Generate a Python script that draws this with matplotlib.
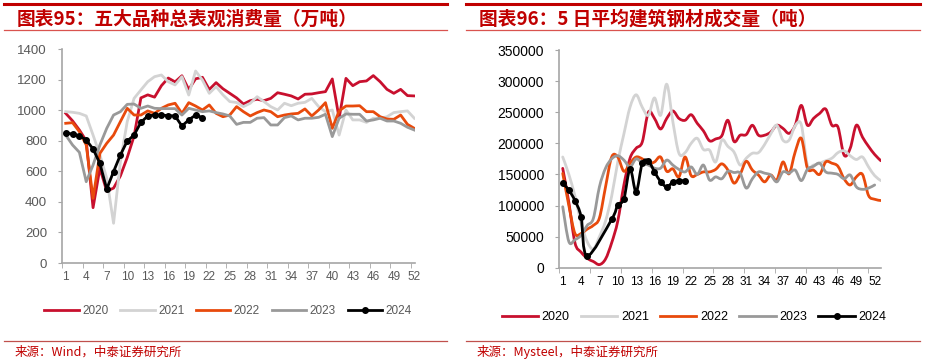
import numpy as np
import matplotlib
matplotlib.use("Agg")
import matplotlib.pyplot as plt
from matplotlib.lines import Line2D
from matplotlib.path import Path
from matplotlib.patches import PathPatch
from matplotlib.ticker import FixedLocator

plt.rcParams['font.family'] = ['Liberation Sans', 'Noto Sans CJK SC', 'DejaVu Sans']

# ================== DATA ==================
years = ['2020', '2021', '2022', '2023', '2024']
colors = ['#C8102E', '#D3D3D3', '#E84A0C', '#999999', '#000000']

# left: five major products apparent consumption (10k t), weeks 1..52
wk_left = list(range(1, 53))
cons_2020 = [979, 930, 870, 800, 362, 620, 470, 490, 570, 690, 830, 1080, 1100, 1085, 1160, 1210,
             1185, 1225, 1135, 1205, 1215, 1135, 1180, 1140, 1110, 1080, 1040, 1062, 1071, 1062,
             1077, 1114, 1104, 1093, 1073, 1104, 1106, 1114, 1121, 1204, 947, 1208, 1160, 1186,
             1191, 1226, 1186, 1136, 1110, 1136, 1095, 1093]
cons_2021 = [990, 986, 979, 962, 837, 707, 554, 260, 663, 925, 1077, 1132, 1186, 1219, 1230, 1186,
             1165, 1219, 1099, 1256, 1197, 1110, 1154, 1100, 1056, 1050, 1023, 1045, 1088, 1056,
             1023, 1001, 1045, 1029, 1045, 1051, 1077, 1023, 990, 1001, 837, 1001, 936, 936,
             920, 947, 947, 957, 984, 990, 995, 947]
cons_2022 = [914, 918, 859, 772, 423, 717, 783, 837, 925, 1012, 968, 968, 995, 979, 1012, 1034,
             1045, 979, 1049, 1027, 1001, 1034, 979, 957, 968, 1023, 990, 962, 984, 1001,
             990, 957, 968, 975, 979, 1008, 962, 1001, 1049, 881, 995, 1027, 1027, 1029,
             990, 990, 957, 942, 940, 968, 907, 881]
cons_2023 = [837, 772, 724, 532, 641, 772, 881, 968, 990, 1038, 1040, 1012, 1027, 1012, 1010, 1010,
             1010, 968, 1012, 1001, 990, 995, 984, 975, 962, 907, 920, 920, 947, 951,
             903, 903, 951, 962, 936, 947, 947, 953, 973, 827, 947, 975, 973, 973,
             929, 936, 947, 929, 929, 914, 888, 870]
wk_left_2024 = list(range(1, 22))
cons_2024 = [850, 844, 833, 805, 746, 652, 484, 598, 707, 798, 837, 920, 962, 968, 968, 964,
             962, 896, 936, 968, 951]

# right: 5-day average construction steel trading volume (t)
wk_right = list(range(1, 54))
vol_2020 = [159700, 105000, 40000, 25000, 15000, 10000, 5000, 14000, 40000, 75000, 133000, 176000,
            192000, 202000, 250000, 240000, 223000, 240000, 252000, 240000, 237000, 246000, 232000,
            220000, 204000, 207000, 212000, 237000, 203000, 213000, 214000, 229000, 213000, 213000,
            218000, 229000, 224000, 216000, 229000, 261000, 229000, 240000, 248000, 255000, 229000,
            226000, 181000, 192000, 229000, 210000, 195000, 182000, 172000]
vol_2021 = [178000, 150000, 115000, 72000, 42000, 30000, 50000, 75000, 115000, 170000, 215000, 258000,
            278000, 258000, 245000, 273000, 245000, 295000, 235000, 184000, 185000, 200000, 208000,
            190000, 189000, 170000, 205000, 195000, 186000, 165000, 176000, 184000, 185000, 198000,
            215000, 229000, 205000, 205000, 228000, 230000, 165000, 165000, 168000, 172000, 176000,
            185000, 188000, 180000, 174000, 178000, 162000, 148000, 140000]
vol_2022 = [151700, 100000, 55000, 55000, 62000, 68000, 80000, 130000, 178000, 178000, 155000, 168000,
            178000, 175000, 168000, 170000, 178000, 155000, 159000, 146000, 178000, 148000, 150000,
            154000, 154000, 158000, 167000, 157000, 136000, 150000, 171000, 157000, 149000, 138000,
            149000, 141000, 170000, 151000, 186000, 208000, 160000, 157000, 150000, 170000, 168000,
            163000, 143000, 133000, 146000, 150000, 116000, 110000, 108000]
wk_right_2023 = list(range(1, 53))
vol_2023 = [98000, 42000, 45000, 52000, 68000, 79000, 130000, 160000, 175000, 180000, 173000, 162000,
            175000, 168000, 165000, 160000, 160000, 173000, 165000, 158000, 154000, 162000, 150000,
            165000, 141000, 146000, 143000, 155000, 153000, 152000, 128000, 143000, 154000, 152000,
            149000, 138000, 154000, 152000, 157000, 140000, 158000, 163000, 168000, 154000, 152000,
            150000, 143000, 149000, 130000, 126000, 128000, 133000]
# 2024: no data around the Spring Festival (weeks 6-8)
wk_right_2024 = [1, 2, 3, 4, 5, 9, 10, 11, 12, 13, 14, 15, 16, 17, 18, 19, 20, 21]
vol_2024 = [135700, 124900, 107700, 82000, 18800, 77700, 100800, 110400, 158700, 122200, 167800,
            171500, 154400, 138300, 130200, 137200, 139900, 139400]

week_labels = list(range(1, 53, 3))

W, H = 926, 363


def fx(x):
    return x / W


def fy(y):
    return 1 - y / H


def smooth_path(xs, ys):
    # Excel style "smoothed line": Catmull-Rom drawn as cubic Bezier segments
    p = np.column_stack([xs, ys]).astype(float)
    verts = [p[0]]
    codes = [Path.MOVETO]
    n = len(p)
    for i in range(n - 1):
        p0 = p[i - 1] if i > 0 else p[i]
        p3 = p[i + 2] if i + 2 < n else p[i + 1]
        c1 = p[i] + (p[i + 1] - p0) / 6
        c2 = p[i + 1] - (p3 - p[i]) / 6
        verts += [c1, c2, p[i + 1]]
        codes += [Path.CURVE4] * 3
    return Path(verts, codes)


fig = plt.figure(figsize=(W / 100, H / 100), dpi=100)

# ================== HEADERS / FOOTERS ==================
def header(x0, x1, title, source):
    fig.add_artist(Line2D([fx(x0), fx(x1)], [fy(4.3), fy(4.3)], color='#C00000', lw=2.2))
    fig.add_artist(Line2D([fx(x0), fx(x1)], [fy(30), fy(30)], color='#D9534F', lw=0.9))
    fig.text(fx(x0 + 13), fy(19), title, color='#C00000', fontsize=13.5, fontweight='bold',
             family=['Noto Sans CJK SC', 'DejaVu Sans'], va='center', ha='left')
    fig.add_artist(Line2D([fx(x0), fx(x1)], [fy(341), fy(341)], color='#C0504D', lw=0.9))
    fig.text(fx(x0 + 11), fy(352), source, color='#C00000', fontsize=9,
             family=['Noto Sans CJK SC', 'DejaVu Sans'], va='center', ha='left')


header(3.5, 447, '图表95：五大品种总表观消费量（万吨）', '来源：Wind，中泰证券研究所')
header(466, 920, '图表96：5 日平均建筑钢材成交量（吨）', '来源：Mysteel，中泰证券研究所')


def style_axes(ax, tick_color, label_color, ysize):
    ax.set_xticks(week_labels)
    ax.tick_params(axis='x', which='major', length=0, pad=6, labelsize=8.5, colors=label_color)
    ax.tick_params(axis='x', which='minor', length=3.5, color=tick_color, direction='out')
    ax.tick_params(axis='y', length=3, color=tick_color, labelsize=ysize, labelcolor=label_color, pad=8)
    for s in ['top', 'right']:
        ax.spines[s].set_visible(False)
    for s in ['left', 'bottom']:
        ax.spines[s].set_color(tick_color)
        ax.spines[s].set_linewidth(1.2)


# ================== LEFT CHART ==================
ax1 = fig.add_axes([fx(62.3), fy(263), fx(415 - 62.3), (263 - 49) / H])
left_series = [(wk_left, cons_2020), (wk_left, cons_2021), (wk_left, cons_2022),
               (wk_left, cons_2023), (wk_left_2024, cons_2024)]
for (xs, ys), yr, c in zip(left_series, years, colors):
    if yr == '2024':
        ax1.plot(xs, ys, color=c, lw=2.0, marker='o', ms=4, label=yr, zorder=5)
    else:
        ax1.plot(xs, ys, color=c, lw=2.0, label=yr)
ax1.set_xlim(0.5, 52.1)
ax1.set_ylim(0, 1400)
ax1.set_yticks(range(0, 1401, 200))
ax1.xaxis.set_minor_locator(FixedLocator(np.arange(0.5, 52.1, 3)))
style_axes(ax1, '#A6A6A6', '#595959', 9.5)

h1, l1 = ax1.get_legend_handles_labels()
leg1 = fig.legend(h1, l1, loc='center', bbox_to_anchor=(fx(228), fy(311)), ncol=5, frameon=False,
                  fontsize=8.5, handlelength=2.9, handletextpad=0.3, columnspacing=1.0)
for t in leg1.get_texts():
    t.set_color('#595959')

# ================== RIGHT CHART ==================
ax2 = fig.add_axes([fx(559.3), fy(267.7), fx(880.8 - 559.3), 217.7 / H])
right_series = [(wk_right, vol_2020), (wk_right, vol_2021), (wk_right, vol_2022),
                (wk_right_2023, vol_2023), (wk_right_2024, vol_2024)]
h2 = []
for (xs, ys), yr, c in zip(right_series, years, colors):
    ax2.add_patch(PathPatch(smooth_path(xs, ys), fill=False, edgecolor=c, lw=2.0,
                            zorder=5 if yr == '2024' else 2, capstyle='round', joinstyle='round'))
    if yr == '2024':
        ax2.plot(xs, ys, ls='none', color=c, marker='o', ms=4, zorder=6)
        h2.append(Line2D([], [], color=c, lw=2.0, marker='o', ms=4))
    else:
        h2.append(Line2D([], [], color=c, lw=2.0))
ax2.set_xlim(0.44, 53.0)
ax2.set_ylim(0, 350000)
ax2.set_yticks(range(0, 350001, 50000))
ax2.xaxis.set_minor_locator(FixedLocator(np.arange(0.44, 53.0, 5.04)))
style_axes(ax2, '#A6A6A6', 'black', 10)

fig.legend(h2, years, loc='center', bbox_to_anchor=(fx(694), fy(317)), ncol=5, frameon=False,
           fontsize=9, handlelength=2.9, handletextpad=0.3, columnspacing=0.9)

fig.savefig('out.png', dpi=100)
